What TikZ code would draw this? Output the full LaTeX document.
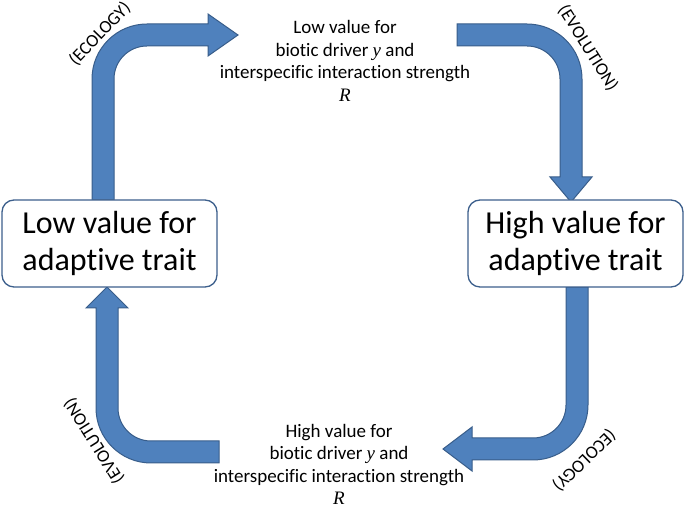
\documentclass[tikz,border=0pt]{standalone}
\usepackage{fontspec}
\setmainfont{Carlito}[Ligatures=NoCommon]
\newfontfamily\serifitfont{Liberation Serif}
\definecolor{arrowfill}{RGB}{79,129,189}
\definecolor{arrowdraw}{RGB}{56,93,138}
\definecolor{boxdraw}{RGB}{60,95,140}
\newcommand{\varit}[1]{{\serifitfont\itshape #1}}
\begin{document}
\begin{tikzpicture}[x=1pt,y=1pt,
  blockarrow/.style={fill=arrowfill, draw=arrowdraw, line width=1pt, line join=miter},
  traitbox/.style={draw=boxdraw, line width=1.3pt, rounded corners=12pt, fill=white,
    minimum width=215pt, minimum height=87pt, align=center,
    font=\fontsize{32}{37.5}\selectfont, inner sep=0pt},
  statetext/.style={align=center, font=\fontsize{19}{22.5}\selectfont, inner sep=0pt},
  proclabel/.style={font=\fontsize{18}{20}\selectfont, inner sep=0pt}]
\useasboundingbox (0,0) rectangle (685,508);

% top-left arrow (ecology)
\draw[blockarrow] (92,308) -- (92,429) arc[start angle=180, end angle=90, radius=55]
  -- (208,484) -- (208,494) -- (238,473) -- (208,452) -- (208,462) -- (147,462)
  arc[start angle=90, end angle=180, radius=33] -- (114,308) -- cycle;
% top-right arrow (evolution)
\draw[blockarrow] (457,484) -- (527,484) arc[start angle=90, end angle=0, radius=55]
  -- (582,331) -- (592,331) -- (571,306) -- (550,331) -- (560,331) -- (560,429)
  arc[start angle=0, end angle=90, radius=33] -- (457,462) -- cycle;
% bottom-right arrow (ecology)
\draw[blockarrow] (566,221) -- (566,103) arc[start angle=0, end angle=-90, radius=33]
  -- (472,70) -- (472,81) -- (443,59) -- (472,37) -- (472,48) -- (533,48)
  arc[start angle=-90, end angle=0, radius=55] -- (588,221) -- cycle;
% bottom-left arrow (evolution)
\draw[blockarrow] (219,67) -- (151,67) arc[start angle=270, end angle=180, radius=33]
  -- (118,200) -- (128,200) -- (107,221) -- (86,200) -- (96,200) -- (96,100)
  arc[start angle=180, end angle=270, radius=55] -- (219,45) -- cycle;

\node[traitbox] (low) at (109.5,264.5) {Low value for\\adaptive trait};
\node[traitbox] (high) at (575.5,264.5) {High value for\\adaptive trait};

\node[statetext] (lowdrv) at (345,447) {Low value for\\biotic driver \varit{y} and\\interspecific interaction strength\\\varit{R}};
\node[statetext] (highdrv) at (339,43.5) {High value for\\biotic driver \varit{y} and\\interspecific interaction strength\\\varit{R}};

\node[proclabel, rotate=46] (eco1) at (100,474) {(ECOLOGY)};
\node[proclabel, rotate=-58] (evo1) at (588,460) {(EVOLUTION)};
\node[proclabel, rotate=224] (eco2) at (584,48) {(ECOLOGY)};
\node[proclabel, rotate=122] (evo2) at (94,67) {(EVOLUTION)};
\end{tikzpicture}
\end{document}
